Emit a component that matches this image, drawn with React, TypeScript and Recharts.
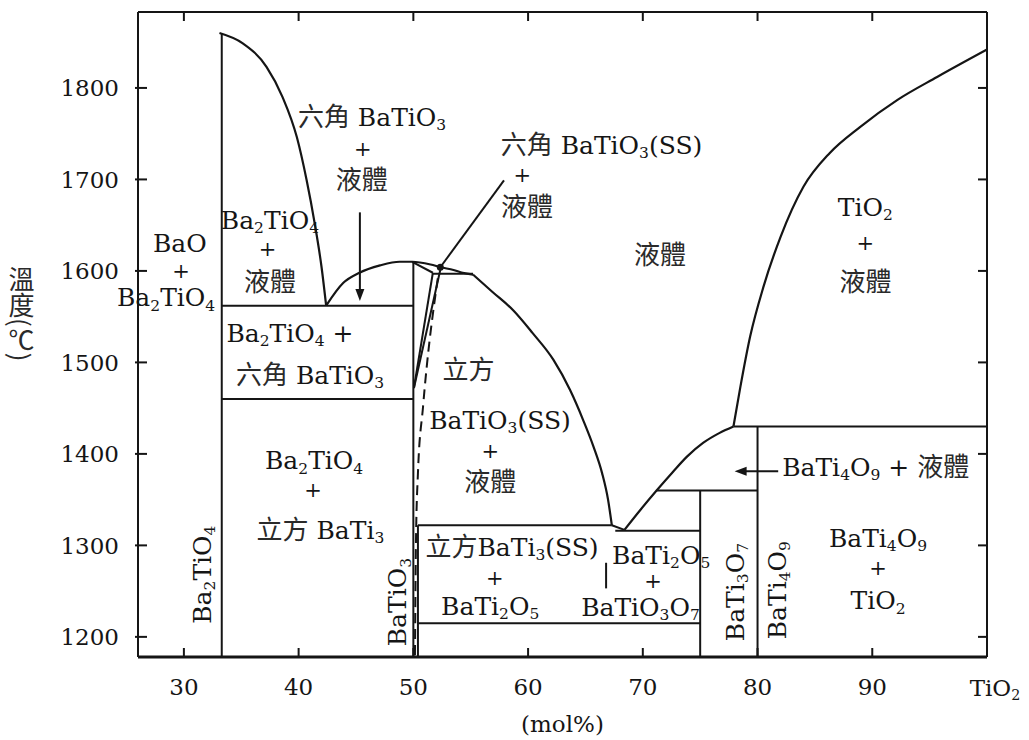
import React from 'react';
import { LineChart, Line, XAxis, YAxis, ReferenceDot } from 'recharts';

type Pt = { m: number; t: number };

// axis ticks
const xTicks = [30, 40, 50, 60, 70, 80, 90, 100];
const yTicks = [1200, 1300, 1400, 1500, 1600, 1700, 1800];

// compound lines (mol% TiO2, °C)
const ba2tio4Line: Pt[] = [{ m: 33.3, t: 1178 }, { m: 33.3, t: 1860 }];
const batio3Line: Pt[] = [{ m: 50, t: 1178 }, { m: 50, t: 1610 }];
const batio3SsLine: Pt[] = [{ m: 50.4, t: 1178 }, { m: 50.4, t: 1322 }];
const bati3o7Line: Pt[] = [{ m: 75, t: 1178 }, { m: 75, t: 1360 }];
const bati4o9Line: Pt[] = [{ m: 80, t: 1178 }, { m: 80, t: 1430 }];

// isotherms
const iso1562: Pt[] = [{ m: 33.3, t: 1562 }, { m: 50, t: 1562 }];
const iso1460: Pt[] = [{ m: 33.3, t: 1460 }, { m: 50, t: 1460 }];
const iso1597: Pt[] = [{ m: 51.7, t: 1597 }, { m: 55.2, t: 1597 }];
const iso1322: Pt[] = [{ m: 50.4, t: 1322 }, { m: 67.3, t: 1322 }];
const iso1316: Pt[] = [{ m: 67.6, t: 1316 }, { m: 75, t: 1316 }];
const iso1215: Pt[] = [{ m: 50.4, t: 1215 }, { m: 75, t: 1215 }];
const iso1360: Pt[] = [{ m: 71.2, t: 1360 }, { m: 80, t: 1360 }];
const iso1430: Pt[] = [{ m: 77.9, t: 1430 }, { m: 100, t: 1430 }];
const divider: Pt[] = [{ m: 66.8, t: 1253 }, { m: 66.8, t: 1281 }];

// hexagonal BaTiO3 solid solution
const hexTop: Pt[] = [{ m: 49.9, t: 1610 }, { m: 51.7, t: 1598 }];
const hexLeft: Pt[] = [{ m: 50.05, t: 1472 }, { m: 51.7, t: 1598 }];
const hexRight: Pt[] = [{ m: 50.05, t: 1472 }, { m: 52.4, t: 1604 }];
const eutecticDip: Pt[] = [{ m: 67.3, t: 1322 }, { m: 68.4, t: 1317 }];

// liquidus curves
const ba2tio4Liquidus: Pt[] = [
  { m: 33.1, t: 1860 }, { m: 35.1, t: 1849 }, { m: 37.2, t: 1823 }, { m: 38.6, t: 1790 },
  { m: 39.85, t: 1746 }, { m: 40.7, t: 1699 }, { m: 41.4, t: 1652 }, { m: 42.0, t: 1604 },
  { m: 42.4, t: 1562 },
];
const hexLiquidus: Pt[] = [
  { m: 42.4, t: 1562 }, { m: 43.9, t: 1587 }, { m: 45.3, t: 1598 }, { m: 47.1, t: 1606 },
  { m: 48.8, t: 1610 }, { m: 49.9, t: 1610 }, { m: 51.5, t: 1607 }, { m: 52.4, t: 1604 },
  { m: 53.5, t: 1601 }, { m: 54.3, t: 1598 }, { m: 55.2, t: 1596 },
];
const cubicLiquidus: Pt[] = [
  { m: 55.2, t: 1596 }, { m: 56.9, t: 1577 }, { m: 58.7, t: 1557 }, { m: 60.4, t: 1532 },
  { m: 62.2, t: 1503 }, { m: 63.65, t: 1470 }, { m: 64.8, t: 1437 }, { m: 65.7, t: 1408 },
  { m: 66.45, t: 1379 }, { m: 66.97, t: 1350 }, { m: 67.3, t: 1322 },
];
const bati4o9Liquidus: Pt[] = [
  { m: 68.4, t: 1317 }, { m: 69.8, t: 1339 }, { m: 71.2, t: 1360 }, { m: 72.6, t: 1380 },
  { m: 73.85, t: 1397 }, { m: 75.25, t: 1412 }, { m: 76.7, t: 1423 }, { m: 77.9, t: 1430 },
];
const tio2Liquidus: Pt[] = [
  { m: 77.9, t: 1430 }, { m: 78.5, t: 1473 }, { m: 79.35, t: 1528 }, { m: 80.5, t: 1582 },
  { m: 82.0, t: 1637 }, { m: 84.0, t: 1692 }, { m: 86.3, t: 1729 }, { m: 88.9, t: 1757 },
  { m: 92.2, t: 1787 }, { m: 95.65, t: 1812 }, { m: 100, t: 1842 },
];
const cubicSsBoundary: Pt[] = [
  { m: 50.14, t: 1180 }, { m: 50.23, t: 1306 }, { m: 50.4, t: 1379 }, { m: 50.84, t: 1451 },
  { m: 52.14, t: 1593 },
];

// pointers
const hexSsPointer: Pt[] = [{ m: 52.35, t: 1604 }, { m: 57.9, t: 1699 }];
const hexLiquidArrow: Pt[] = [{ m: 45.34, t: 1664 }, { m: 45.34, t: 1576 }];
const bati4o9Arrow: Pt[] = [{ m: 78.6, t: 1381 }, { m: 81.8, t: 1381 }];

// region labels
const labels = [
  { m: 29.65, t: 1630, text: 'BaO' },
  { m: 29.75, t: 1601, text: '+' },
  { m: 28.45, t: 1571, text: 'Ba2TiO4' },
  { m: 37.5, t: 1656, text: 'Ba2TiO4' },
  { m: 37.3, t: 1625, text: '+' },
  { m: 37.5, t: 1588, text: '液體' },
  { m: 46.4, t: 1768, text: '六角 BaTiO3' },
  { m: 45.6, t: 1734, text: '+' },
  { m: 45.5, t: 1699, text: '液體' },
  { m: 66.4, t: 1738, text: '六角 BaTiO3(SS)' },
  { m: 59.5, t: 1705, text: '+' },
  { m: 59.9, t: 1670, text: '液體' },
  { m: 71.5, t: 1617, text: '液體' },
  { m: 89.4, t: 1670, text: 'TiO2' },
  { m: 89.4, t: 1631, text: '+' },
  { m: 89.4, t: 1588, text: '液體' },
  { m: 39.25, t: 1532, text: 'Ba2TiO4 +' },
  { m: 41.0, t: 1486, text: '六角 BaTiO3' },
  { m: 54.8, t: 1492, text: '立方' },
  { m: 57.55, t: 1437, text: 'BaTiO3(SS)' },
  { m: 56.7, t: 1404, text: '+' },
  { m: 56.7, t: 1369, text: '液體' },
  { m: 41.35, t: 1393, text: 'Ba2TiO4' },
  { m: 41.25, t: 1361, text: '+' },
  { m: 41.9, t: 1317, text: '立方 BaTi3' },
  { m: 58.6, t: 1298, text: '立方BaTi3(SS)' },
  { m: 57.1, t: 1265, text: '+' },
  { m: 56.7, t: 1234, text: 'BaTi2O5' },
  { m: 71.6, t: 1290, text: 'BaTi2O5' },
  { m: 70.9, t: 1262, text: '+' },
  { m: 69.8, t: 1233, text: 'BaTiO3O7' },
  { m: 90.3, t: 1386, text: 'BaTi4O9 + 液體' },
  { m: 90.5, t: 1308, text: 'BaTi4O9' },
  { m: 90.5, t: 1276, text: '+' },
  { m: 90.5, t: 1240, text: 'TiO2' },
];
const compoundLabels = [
  { m: 31.6, t: 1268, text: 'Ba2TiO4' },
  { m: 48.6, t: 1238, text: 'BaTiO3' },
  { m: 78.0, t: 1249, text: 'BaTi3O7' },
  { m: 81.7, t: 1251, text: 'BaTi4O9' },
];

const INK = '#151515';
const LATIN = '"DejaVu Serif", "Liberation Serif", serif';
const CJK = '"Noto Sans CJK TC", "Noto Sans CJK SC", sans-serif';
const TICK = 9;

function ChemText({ x, y, text, size = 25, rotate = false, anchor = 'middle' }: any) {
  if (text === '+') size = 21;
  const runs: { s: string; k: 'n' | 's' | 'c' }[] = [];
  for (const ch of text) {
    const k = /[0-9]/.test(ch) ? 's' : /[\u3000-\u9fff]/.test(ch) ? 'c' : 'n';
    const last = runs[runs.length - 1];
    if (last && last.k === k) last.s += ch;
    else runs.push({ s: ch, k });
  }
  const shift = size * 0.17;
  let prevSub = false;
  const spans = runs.map((r, i) => {
    const isSub = r.k === 's';
    const dy = isSub && !prevSub ? shift : !isSub && prevSub ? -shift : 0;
    prevSub = isSub;
    return (
      <tspan
        key={i}
        dy={dy || undefined}
        fontSize={isSub ? size * 0.62 : r.k === 'c' ? size * 1.04 : size}
        fontFamily={r.k === 'c' ? CJK : LATIN}
        fill={r.k === 'c' ? '#2a2a2a' : INK}
      >
        {r.s}
      </tspan>
    );
  });
  return (
    <text
      x={x}
      y={y + size * 0.36}
      textAnchor={anchor}
      fontSize={size}
      fontFamily={LATIN}
      style={{ whiteSpace: 'pre' }}
      transform={rotate ? `rotate(-90 ${x} ${y})` : undefined}
    >
      {spans}
    </text>
  );
}

// bottom axis: tick line drawn inward, label below
function BottomTick(props: any) {
  const { x, y, payload } = props;
  const axisY = y - 22;
  return (
    <g>
      <line x1={x} x2={x} y1={axisY} y2={axisY - TICK} stroke={INK} strokeWidth={2} />
      {payload.value === 100 ? (
        <ChemText x={x + 8} y={y + 9} text="TiO2" size={23} />
      ) : (
        <text x={x} y={y} dy="0.71em" textAnchor="middle" fontSize={23} fontFamily={LATIN} fill={INK}>
          {payload.value}
        </text>
      )}
    </g>
  );
}

function LeftTick(props: any) {
  const { x, y, payload } = props;
  const axisX = x + 19;
  return (
    <g>
      <line x1={axisX - 3} x2={axisX + TICK} y1={y} y2={y} stroke={INK} strokeWidth={2} />
      <text x={x} y={y} dy="0.355em" textAnchor="end" fontSize={23} fontFamily={LATIN} fill={INK}>
        {payload.value}
      </text>
    </g>
  );
}

function TopTick(props: any) {
  const { x, y } = props;
  return <line x1={x} x2={x} y1={y} y2={y + TICK} stroke={INK} strokeWidth={2} />;
}

function RightTick(props: any) {
  const { x, y } = props;
  return <line x1={x} x2={x - TICK} y1={y} y2={y} stroke={INK} strokeWidth={2} />;
}

function Head({ cx, cy, dir }: { cx: number; cy: number; dir: 'down' | 'left' }) {
  const L = 12;
  const W = 4.5;
  const pts =
    dir === 'down'
      ? `${cx},${cy} ${cx - W},${cy - L} ${cx + W},${cy - L}`
      : `${cx},${cy} ${cx + L},${cy - W} ${cx + L},${cy + W}`;
  return <polygon points={pts} fill={INK} />;
}

const straight = [
  ba2tio4Line, batio3Line, batio3SsLine, bati3o7Line, bati4o9Line,
  iso1562, iso1460, iso1597, iso1322, iso1316, iso1215, iso1360, iso1430, divider,
  hexTop, hexLeft, hexRight, eutecticDip, hexSsPointer, hexLiquidArrow, bati4o9Arrow,
];
const curves = [ba2tio4Liquidus, hexLiquidus, cubicLiquidus, bati4o9Liquidus, tio2Liquidus];

export default function App() {
  const axisLine = { stroke: INK, strokeWidth: 2 };
  return (
    <div style={{ position: 'absolute', left: 0, top: 0, width: 1029, height: 740, background: '#fff' }}>
      <LineChart width={1029} height={740} margin={{ top: 11, right: 41, bottom: 0, left: 0 }}>
        <XAxis
          dataKey="m"
          type="number"
          domain={[26, 100]}
          ticks={xTicks}
          interval={0}
          allowDataOverflow
          height={83}
          tickSize={0}
          tickMargin={22}
          tick={<BottomTick />}
          tickLine={false}
          axisLine={{ stroke: INK, strokeWidth: 3 }}
          label={{ value: '(mol%)', position: 'insideBottom', offset: 8, fontSize: 23, fontFamily: LATIN, fill: INK }}
        />
        <XAxis
          xAxisId="top"
          orientation="top"
          dataKey="m"
          type="number"
          domain={[26, 100]}
          ticks={xTicks.slice(0, -1)}
          interval={0}
          allowDataOverflow
          height={1}
          tickSize={0}
          tickMargin={0}
          tick={<TopTick />}
          tickLine={false}
          axisLine={axisLine}
        />
        <YAxis
          type="number"
          domain={[1178, 1883]}
          ticks={yTicks}
          interval={0}
          allowDataOverflow
          width={138}
          tickSize={0}
          tickMargin={19}
          tick={<LeftTick />}
          tickLine={false}
          axisLine={axisLine}
        />
        <YAxis
          yAxisId="right"
          orientation="right"
          type="number"
          domain={[1178, 1883]}
          ticks={yTicks}
          interval={0}
          allowDataOverflow
          width={1}
          tickSize={0}
          tickMargin={0}
          tick={<RightTick />}
          tickLine={false}
          axisLine={axisLine}
        />
        {straight.map((d, i) => (
          <Line
            key={`s${i}`}
            data={d}
            dataKey="t"
            type="linear"
            stroke={INK}
            strokeWidth={2}
            dot={false}
            activeDot={false}
            isAnimationActive={false}
          />
        ))}
        {curves.map((d, i) => (
          <Line
            key={`c${i}`}
            data={d}
            dataKey="t"
            type="monotone"
            stroke={INK}
            strokeWidth={2.2}
            dot={false}
            activeDot={false}
            isAnimationActive={false}
          />
        ))}
        <Line
          data={cubicSsBoundary}
          dataKey="t"
          type="monotone"
          stroke={INK}
          strokeWidth={2}
          strokeDasharray="10 6"
          dot={false}
          activeDot={false}
          isAnimationActive={false}
        />
        <ReferenceDot
          x={hexLiquidArrow[1].m}
          y={1567}
          r={0}
          shape={(p: any) => <Head cx={p.cx} cy={p.cy} dir="down" />}
        />
        <ReferenceDot
          x={78.0}
          y={bati4o9Arrow[0].t}
          r={0}
          shape={(p: any) => <Head cx={p.cx} cy={p.cy} dir="left" />}
        />
        <ReferenceDot
          x={hexSsPointer[0].m}
          y={hexSsPointer[0].t}
          r={0}
          shape={(p: any) => <circle cx={p.cx} cy={p.cy} r={3.5} fill={INK} />}
        />
        {labels.map((l, i) => (
          <ReferenceDot
            key={`l${i}`}
            x={l.m}
            y={l.t}
            r={0}
            shape={(p: any) => <ChemText x={p.cx} y={p.cy} text={l.text} />}
          />
        ))}
        {compoundLabels.map((l, i) => (
          <ReferenceDot
            key={`v${i}`}
            x={l.m}
            y={l.t}
            r={0}
            shape={(p: any) => <ChemText x={p.cx} y={p.cy} text={l.text} rotate />}
          />
        ))}
      </LineChart>
      <div
        style={{
          position: 'absolute',
          left: 8,
          top: 266,
          writingMode: 'vertical-rl',
          fontSize: 26,
          lineHeight: 1,
          fontFamily: CJK,
          color: '#2a2a2a',
        }}
      >
        溫度(℃)
      </div>
    </div>
  );
}
